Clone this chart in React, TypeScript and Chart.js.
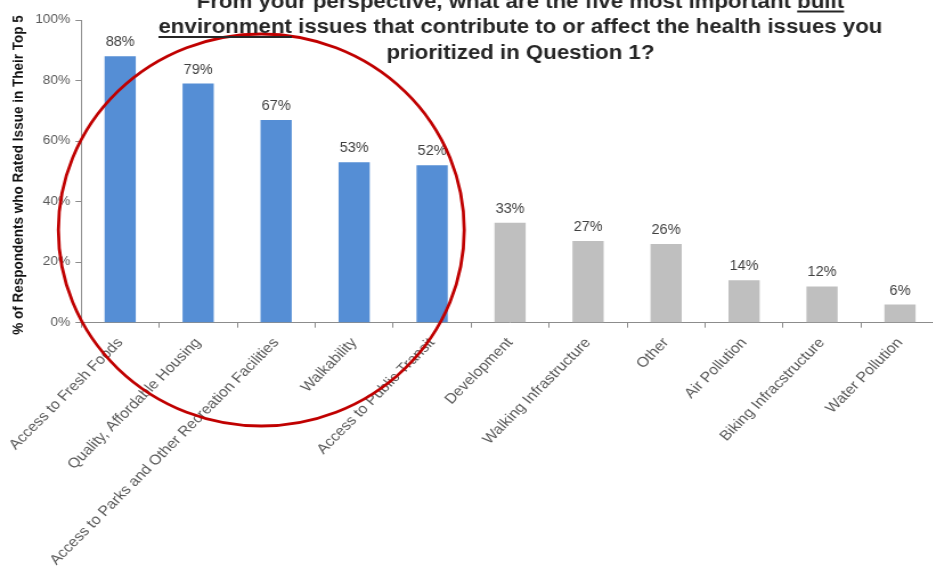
import React, { useEffect, useRef } from 'react';
import { Chart, registerables } from 'chart.js';

Chart.register(...registerables);

// ---- data ----
const categories = [
  'Access to Fresh Foods',
  'Quality, Affordable Housing',
  'Access to Parks and Other Recreation Facilities',
  'Walkability',
  'Access to Public Transit',
  'Development',
  'Walking Infrastructure',
  'Other',
  'Air Pollution',
  'Biking Infracstructure',
  'Water Pollution',
];
const values = [88, 79, 67, 53, 52, 33, 27, 26, 14, 12, 6];
const topFive = [true, true, true, true, true, false, false, false, false, false, false];
const yTickValues = [0, 20, 40, 60, 80, 100];
const titleLines = [
  'From your perspective, what are the five most important built',
  'environment issues that contribute to or affect the health issues you',
  'prioritized in Question 1?',
];
const underlinedWords = ['built', 'environment', ''];
const yAxisTitle = '% of Respondents who Rated Issue in Their Top 5';

// ---- layout (canvas units; canvas is stretched horizontally by STRETCH) ----
const STRETCH = 1.14;
const CW = 830;
const CH = 573;
const AREA_LEFT = 71.2;
const AREA_TOP = 20;
const AREA_BOTTOM = 322.7;
const FONT = '"Liberation Sans", Arial, Helvetica, sans-serif';

const BLUE = '#558ED5';
const GREY = '#BFBFBF';
const AXIS = '#8C8C8C';

const overlayPlugin = {
  id: 'overlay',
  afterDatasetsDraw(chart: any) {
    const ctx = chart.ctx;
    const meta = chart.getDatasetMeta(0);
    // data labels (counter-scaled so they are not stretched)
    ctx.save();
    ctx.font = `14.5px ${FONT}`;
    ctx.fillStyle = '#404040';
    ctx.textAlign = 'center';
    ctx.textBaseline = 'alphabetic';
    meta.data.forEach((bar: any, i: number) => {
      ctx.save();
      ctx.translate(bar.x, bar.y - 10);
      ctx.scale(1 / STRETCH, 1);
      ctx.fillText(values[i] + '%', 0, 0);
      ctx.restore();
    });
    ctx.restore();

    // red ellipse annotation around the top five bars
    const cx = meta.data[2].x - 13;
    const cy = 230;
    ctx.save();
    ctx.strokeStyle = '#C00000';
    ctx.lineWidth = 2.8;
    ctx.beginPath();
    ctx.ellipse(cx, cy, 178, 196, 0, 0, Math.PI * 2);
    ctx.stroke();
    ctx.restore();

    // chart title
    ctx.save();
    ctx.font = `bold 19.5px ${FONT}`;
    ctx.fillStyle = '#262626';
    ctx.textAlign = 'left';
    ctx.textBaseline = 'alphabetic';
    const centerX = 456.5;
    const baselines = [7.5, 33, 59];
    titleLines.forEach((line, i) => {
      const w = ctx.measureText(line).width;
      const x0 = centerX - w / 2;
      ctx.fillText(line, x0, baselines[i]);
      const word = underlinedWords[i];
      if (word) {
        const idx = line.indexOf(word);
        const pre = ctx.measureText(line.slice(0, idx)).width;
        const ww = ctx.measureText(word).width;
        ctx.fillRect(x0 + pre, baselines[i] + 3, ww, 2);
      }
    });
    ctx.restore();

    // y axis title
    ctx.save();
    ctx.translate(15.8, 175);
    ctx.rotate(-Math.PI / 2);
    ctx.font = `bold 13.5px ${FONT}`;
    ctx.fillStyle = '#111111';
    ctx.textAlign = 'center';
    ctx.textBaseline = 'middle';
    ctx.fillText(yAxisTitle, 0, 0);
    ctx.restore();
  },
};

export default function App() {
  const ref = useRef<HTMLCanvasElement | null>(null);

  useEffect(() => {
    if (!ref.current) return;
    Chart.defaults.font.family = FONT;
    const chart = new Chart(ref.current, {
      type: 'bar',
      data: {
        labels: categories,
        datasets: [
          {
            data: values,
            backgroundColor: topFive.map((t) => (t ? BLUE : GREY)),
            borderWidth: 0,
            barPercentage: 0.4,
            categoryPercentage: 1,
          },
        ],
      },
      options: {
        responsive: false,
        animation: false,
        devicePixelRatio: 1,
        layout: { padding: { top: AREA_TOP, right: 6.3, left: 0, bottom: 0 } },
        plugins: {
          legend: { display: false },
          tooltip: { enabled: false },
          title: { display: false },
        },
        scales: {
          x: {
            type: 'category',
            offset: true,
            grid: {
              offset: true,
              drawOnChartArea: false,
              drawTicks: true,
              tickLength: 5,
              color: AXIS,
            },
            border: { display: true, color: AXIS, width: 1 },
            ticks: {
              autoSkip: false,
              minRotation: 48.7,
              maxRotation: 48.7,
              padding: 7,
              color: '#595959',
              font: { family: FONT, size: 14 },
            },
            afterFit: (s: any) => {
              s.height = CH - AREA_BOTTOM;
              s.paddingLeft = 0;
              s.paddingRight = 0;
            },
          },
          y: {
            min: 0,
            max: 100,
            afterBuildTicks: (s: any) => {
              s.ticks = yTickValues.map((v) => ({ value: v }));
            },
            grid: {
              drawOnChartArea: false,
              drawTicks: true,
              tickLength: 5,
              color: AXIS,
            },
            border: { display: true, color: AXIS, width: 1 },
            ticks: {
              padding: 4.6,
              color: '#595959',
              font: { family: FONT, size: 12 },
              callback: (v: any) => v + '%',
            },
            afterFit: (s: any) => {
              s.width = AREA_LEFT;
            },
          },
        },
      },
      plugins: [overlayPlugin],
    });
    return () => chart.destroy();
  }, []);

  return (
    <div
      style={{
        position: 'fixed',
        left: 0,
        top: 0,
        width: 933,
        height: 573,
        overflow: 'hidden',
        background: '#ffffff',
      }}
    >
      <canvas
        ref={ref}
        width={CW}
        height={CH}
        style={{
          display: 'block',
          transform: `scaleX(${STRETCH})`,
          transformOrigin: '0 0',
        }}
      />
    </div>
  );
}
